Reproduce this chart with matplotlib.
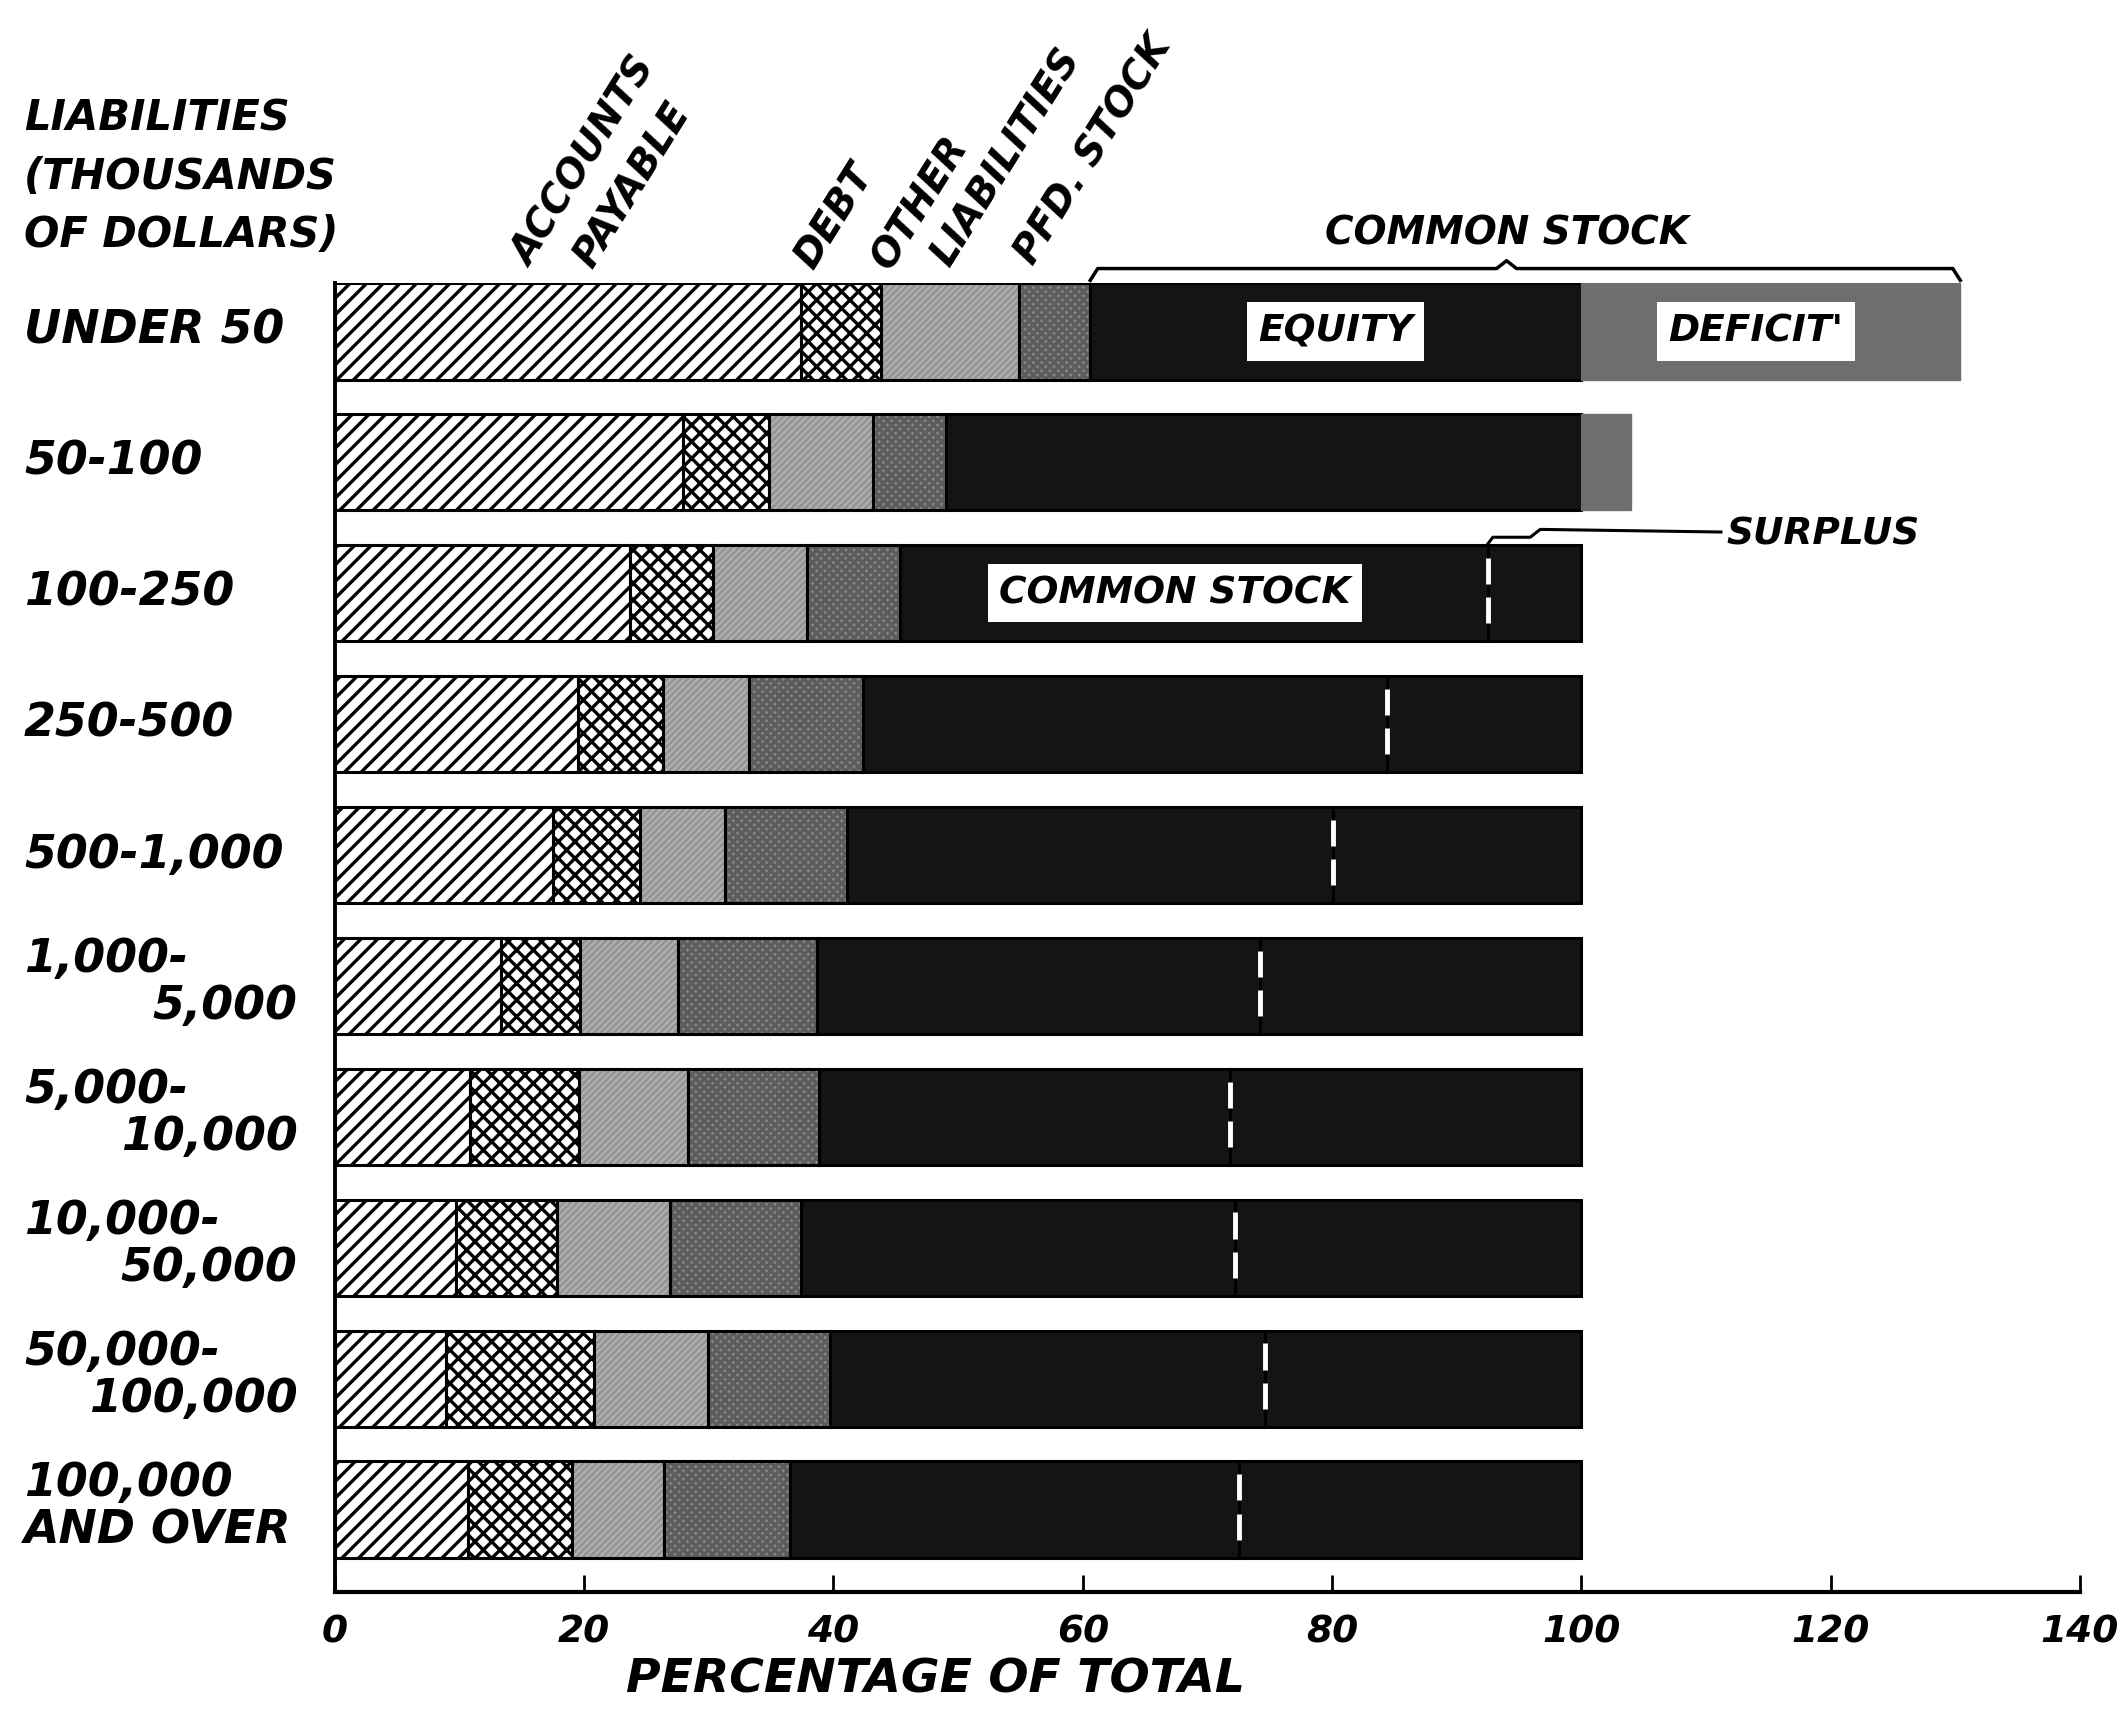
import numpy as np
import matplotlib.pyplot as plt
from matplotlib import transforms

# liability size classes (thousands of dollars), top to bottom
categories = ["UNDER 50", "50-100", "100-250", "250-500", "500-1,000",
              "1,000-\n5,000", "5,000-\n10,000", "10,000-\n50,000",
              "50,000-\n100,000", "100,000\nAND OVER"]

# percentage of total
accounts_payable = [37.4, 27.9, 23.7, 19.5, 17.5, 13.3, 10.8, 9.7, 8.9, 10.7]
debt = [6.4, 6.9, 6.6, 6.8, 7.0, 6.4, 8.8, 8.1, 11.9, 8.3]
other_liabilities = [11.1, 8.4, 7.6, 6.9, 6.8, 7.8, 8.7, 9.1, 9.1, 7.4]
pfd_stock = [5.7, 5.8, 7.4, 9.2, 9.8, 11.2, 10.5, 10.5, 9.8, 10.1]
common_stock = [69.8, 55.0, 47.2, 42.0, 39.0, 35.5, 33.0, 34.8, 34.9, 36.0]
deficit = [30.4, 4.0, 0, 0, 0, 0, 0, 0, 0, 0]
surplus = [0, 0, 7.5, 15.6, 19.9, 25.8, 28.2, 27.8, 25.4, 27.5]

x_ticks = [0, 20, 40, 60, 80, 100, 120, 140]
header = ["LIABILITIES", "(THOUSANDS", "OF DOLLARS)"]

plt.rcParams['font.family'] = ['DejaVu Sans']
plt.rcParams['font.weight'] = 'bold'
plt.rcParams['font.style'] = 'italic'
plt.rcParams['hatch.linewidth'] = 2.4

fig = plt.figure(figsize=(21.25, 17.18), dpi=100)
ax = fig.add_axes([0.1576, 0.0733, 0.8212, 0.762])

y = np.arange(len(categories))
bar_h = 0.735
ap = np.array(accounts_payable)
db = np.array(debt)
ol = np.array(other_liabilities)
pf = np.array(pfd_stock)
cs = np.array(common_stock)
df = np.array(deficit)
sp = np.array(surplus)

left_db = ap
left_ol = ap + db
left_pf = left_ol + ol
pfd_end = left_pf + pf
equity = cs - df
cs_end = pfd_end + cs
OUT = 2.2


def segment(yy, width, left, face, hatch, hcolor):
    ax.barh(yy, width, left=left, height=bar_h, color=face, hatch=hatch,
            edgecolor=hcolor, linewidth=0)
    ax.barh(yy, width, left=left, height=bar_h, fill=False,
            edgecolor='black', linewidth=OUT)


segment(y, ap, 0, 'white', '//', 'black')
segment(y, db, left_db, 'white', 'xx', 'black')
segment(y, ol, left_ol, '#bababa', '/////', '#969696')
segment(y, pf, left_pf, '#878787', 'xxxx', '#5c5c5c')

# common stock (black), deficit (grey) and surplus (black)
ax.barh(y, equity, left=pfd_end, height=bar_h, color='#141414',
        edgecolor='black', linewidth=OUT)
m = df > 0
ax.barh(y[m], df[m], left=(pfd_end + equity)[m], height=bar_h,
        color='#6e6e6e', edgecolor='#6e6e6e', linewidth=1)
m = sp > 0
ax.barh(y[m], sp[m], left=cs_end[m], height=bar_h, color='#141414',
        edgecolor='black', linewidth=OUT)
ax.vlines(cs_end[m], y[m] - 0.27, y[m] - 0.07, color='white', linewidth=3.5)
ax.vlines(cs_end[m], y[m] + 0.03, y[m] + 0.23, color='white', linewidth=3.5)

ax.set_xlim(0, 140)
ax.set_ylim(9.63, -0.37)
for s in ['top', 'right']:
    ax.spines[s].set_visible(False)
ax.spines['left'].set_linewidth(2.8)
ax.spines['bottom'].set_linewidth(3.0)
ax.set_yticks([])
ax.set_xticks(x_ticks)
ax.tick_params(axis='x', direction='in', length=12, width=2, pad=16,
               labelsize=27)

# row labels
trans = transforms.blended_transform_factory(fig.transFigure, ax.transData)
for i, lab in enumerate(categories):
    lines = lab.split('\n')
    if len(lines) == 1:
        ax.text(0.0113, i, lab, transform=trans, ha='left', va='center',
                fontsize=33)
    else:
        ax.text(0.0113, i - 0.2, lines[0], transform=trans, ha='left',
                va='center', fontsize=33)
        if lines[1][0].isdigit():
            ax.text(0.140, i + 0.16, lines[1], transform=trans, ha='right',
                    va='center', fontsize=33)
        else:
            ax.text(0.0113, i + 0.16, lines[1], transform=trans, ha='left',
                    va='center', fontsize=33)

for k, h in enumerate(header):
    fig.text(0.0113, 0.931 - k * 0.034, h, ha='left', va='center', fontsize=30)

# rotated column labels
rot = dict(rotation=58, rotation_mode='anchor', ha='left', va='bottom',
           fontsize=28)
ax.text(16.3, -0.45, "ACCOUNTS", **rot)
ax.text(21.2, -0.44, "PAYABLE", **rot)
ax.text(38.9, -0.43, "DEBT", **rot)
ax.text(45.1, -0.42, "OTHER", **rot)
ax.text(49.9, -0.45, "LIABILITIES", **rot)
ax.text(56.6, -0.46, "PFD. STOCK", **rot)

# brace over common stock in first row
x0, x1 = pfd_end[0], cs_end[0]
xm = (x0 + x1) / 2 - 1.5
ax.plot([x0, x0 + 0.6, xm - 0.8, xm, xm + 0.8, x1 - 0.6, x1],
        [-0.39, -0.48, -0.48, -0.54, -0.48, -0.48, -0.39],
        color='black', linewidth=2.5, clip_on=False)
ax.text(xm, -0.6, "COMMON STOCK", ha='center', va='bottom', fontsize=28)

# surplus callout
xs = cs_end[2]
yt = 2 - bar_h / 2
ax.plot([xs, xs + 0.4, xs + 3.4, xs + 4.2, 111.2],
        [yt - 0.01, yt - 0.06, yt - 0.06, yt - 0.12, yt - 0.1],
        color='black', linewidth=2.2, clip_on=False)
ax.text(111.6, yt - 0.08, "SURPLUS", ha='left', va='center', fontsize=27)

box = dict(boxstyle='square,pad=0.3', fc='white', ec='none')
ax.text(pfd_end[0] + equity[0] / 2, 0, "EQUITY", ha='center', va='center',
        fontsize=27, bbox=box)
ax.text(pfd_end[0] + equity[0] + df[0] / 2 - 1.2, 0, "DEFICIT'",
        ha='center', va='center', fontsize=27, bbox=box)
ax.text(pfd_end[2] + cs[2] / 2 - 1.5, 2, "COMMON STOCK", ha='center',
        va='center', fontsize=27, bbox=box)

fig.text(0.44, 0.022, "PERCENTAGE OF TOTAL", ha='center', va='center',
         fontsize=34)

fig.savefig('out.png', dpi=100)
